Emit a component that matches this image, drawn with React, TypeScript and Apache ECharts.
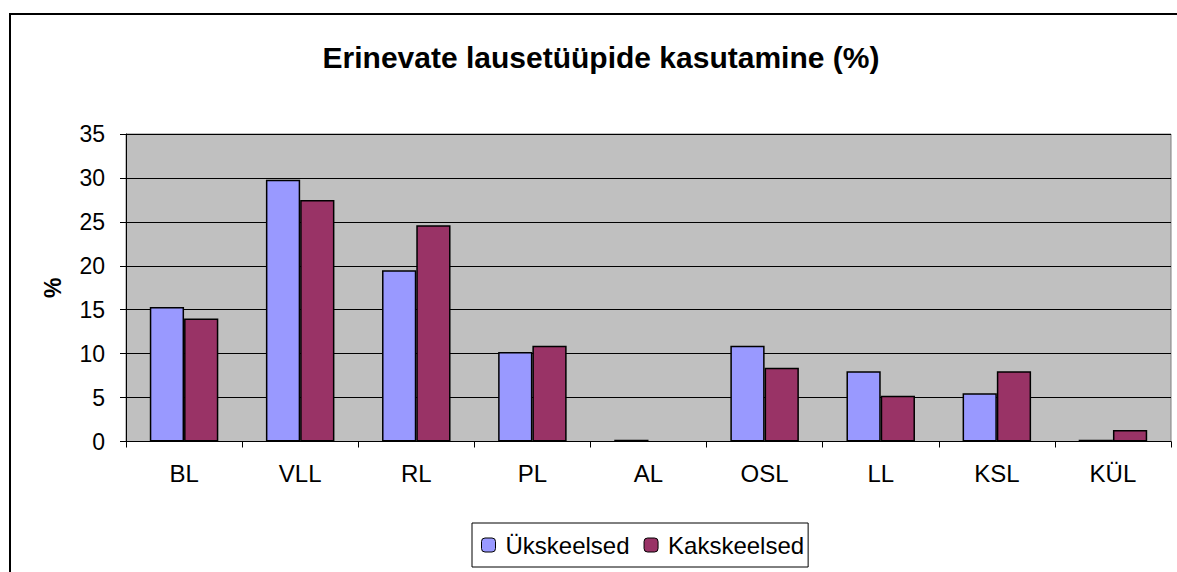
import React, { useEffect, useRef } from "react";
import * as echarts from "echarts";

const categories = ["BL", "VLL", "RL", "PL", "AL", "OSL", "LL", "KSL", "KÜL"];
const ukskeelsed = [15.3, 29.8, 19.5, 10.2, 0.2, 10.9, 8.0, 5.5, 0.2];
const kakskeelsed = [14.0, 27.5, 24.6, 10.9, 0, 8.4, 5.2, 8.0, 1.3];
const seriesNames = ["Ükskeelsed", "Kakskeelsed"];
const titleText = "Erinevate lausetüüpide kasutamine (%)";
const yAxisName = "%";

const FONT = "Arial, 'Liberation Sans', sans-serif";

const toItems = (vals: number[]) =>
  vals.map((v) => (v === 0 ? { value: v, itemStyle: { borderWidth: 0 } } : v));

export default function App() {
  const ref = useRef<HTMLDivElement>(null);
  useEffect(() => {
    if (!ref.current) return;
    const chart = echarts.init(ref.current, undefined, { renderer: "svg" });
    chart.setOption({
      animation: false,
      backgroundColor: "#ffffff",
      textStyle: { fontFamily: FONT },
      title: {
        text: titleText,
        left: 601,
        textAlign: "center",
        top: 42,
        padding: 0,
        textStyle: { fontFamily: FONT, fontSize: 30, fontWeight: "bold", color: "#000" },
      },
      graphic: [
        {
          type: "rect",
          shape: { x: 10, y: 14, width: 1200, height: 600 },
          style: { fill: "none", stroke: "#000", lineWidth: 2 },
          z: 100,
        },
      ],
      legend: {
        left: 472,
        top: 523,
        orient: "horizontal",
        data: seriesNames,
        itemWidth: 14,
        itemHeight: 14,
        itemGap: 14,
        borderColor: "#000",
        borderWidth: 1,
        padding: [10, 4, 10, 9],
        textStyle: { fontFamily: FONT, fontSize: 24, color: "#000", padding: [0, 0, 0, 5] },
        itemStyle: { borderColor: "#000", borderWidth: 1 },
      },
      grid: {
        left: 126,
        top: 134,
        width: 1045,
        height: 307.5,
        show: true,
        backgroundColor: "#C0C0C0",
        borderColor: "#808080",
        borderWidth: 1,
      },
      xAxis: {
        type: "category",
        data: categories,
        boundaryGap: true,
        axisLine: { show: true, lineStyle: { color: "#000", width: 1 } },
        axisTick: { show: true, length: 6, alignWithLabel: false, lineStyle: { color: "#000" } },
        axisLabel: { fontFamily: FONT, fontSize: 24, color: "#000", margin: 20 },
        splitLine: { show: false },
      },
      yAxis: {
        type: "value",
        min: 0,
        max: 35,
        interval: 5,
        name: yAxisName,
        nameLocation: "middle",
        nameGap: 62,
        nameTextStyle: { fontFamily: FONT, fontSize: 23, fontWeight: "bold", color: "#000" },
        axisLine: { show: true, lineStyle: { color: "#000", width: 1 } },
        axisTick: { show: true, inside: false, length: 6, lineStyle: { color: "#000" } },
        axisLabel: { fontFamily: FONT, fontSize: 23, color: "#000", margin: 21 },
        splitLine: { show: true, lineStyle: { color: "#000", width: 1 } },
      },
      series: [
        {
          name: seriesNames[0],
          type: "bar",
          data: toItems(ukskeelsed),
          barGap: "0%",
          barCategoryGap: "41%",
          itemStyle: { color: "#9999FF", borderColor: "#000", borderWidth: 1.5 },
        },
        {
          name: seriesNames[1],
          type: "bar",
          data: toItems(kakskeelsed),
          barGap: "0%",
          barCategoryGap: "41%",
          itemStyle: { color: "#993366", borderColor: "#000", borderWidth: 1.5 },
        },
      ],
    });
    return () => chart.dispose();
  }, []);
  return (
    <div
      ref={ref}
      style={{ position: "absolute", left: 0, top: 0, width: 1177, height: 572 }}
    />
  );
}
